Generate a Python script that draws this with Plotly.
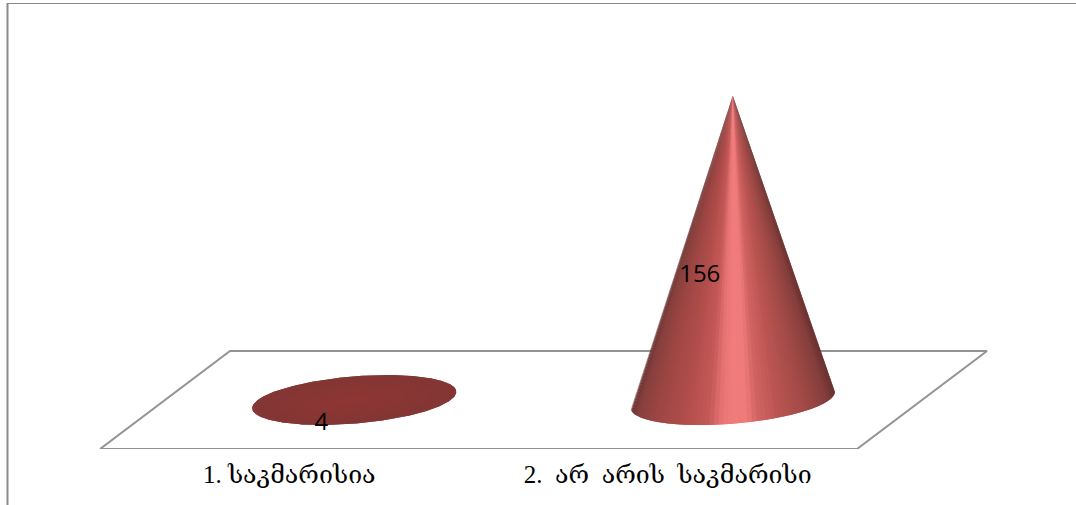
import math
import plotly.graph_objects as go

categories = ["1. საკმარისია", "2.\u00a0 არ\u00a0 არის\u00a0 საკმარისი"]
values = [4, 156]

# page geometry
W, H = 1076, 505
PX_PER_CAT = 378.5      # horizontal pixels per category slot
PX_PER_VAL = 1.95       # vertical pixels per value unit
FLOOR_LEFT_PX = 100
FLOOR_FRONT_PX = 449
DEPTH_X, DEPTH_Y = 130 / PX_PER_CAT, 98 / PX_PER_VAL   # full floor depth shear
RX, DX, DY = 96.5 / PX_PER_CAT, 33 / PX_PER_CAT, 25 / PX_PER_VAL
Y_FRONT = -DEPTH_Y / 2  # value 0 sits in the middle of the floor
LABEL_SHIFT = 3 / PX_PER_VAL

STOPS = [(0, "#6b3432"), (0.03, "#86403d"), (0.12, "#9c4543"), (0.27, "#b24e4c"),
         (0.38, "#c45957"), (0.45, "#e97575"), (0.50, "#f27c7c"), (0.57, "#ee7b7b"),
         (0.62, "#d26462"), (0.72, "#bb5552"), (0.86, "#a04947"), (0.96, "#853f3c"),
         (1, "#6a3230")]


def rgb(h):
    return [int(h[i:i + 2], 16) for i in (1, 3, 5)]


def shade(f):
    for (a, ca), (b, cb) in zip(STOPS, STOPS[1:]):
        if f <= b:
            k = (f - a) / (b - a)
            c = [round(p + (q - p) * k) for p, q in zip(rgb(ca), rgb(cb))]
            return f"rgb({c[0]},{c[1]},{c[2]})"
    return STOPS[-1][1]


def rim(cx, t):
    return cx + RX * math.cos(t) + DX * math.sin(t), DY * math.sin(t)


def patch(xs, ys, color):
    return go.Scatter(x=xs, y=ys, mode="lines", fill="toself", fillcolor=color,
                      line=dict(color=color, width=0), hoverinfo="skip", showlegend=False)


fig = go.Figure()

# floor
floor_x = [0, 2, 2 + DEPTH_X, DEPTH_X, 0]
floor_y = [Y_FRONT, Y_FRONT, Y_FRONT + DEPTH_Y, Y_FRONT + DEPTH_Y, Y_FRONT]
fig.add_trace(go.Scatter(x=floor_x, y=floor_y, mode="lines", line=dict(color="#939393", width=2),
                         hoverinfo="skip", showlegend=False, cliponaxis=False))

# cones
N = 70
for i, v in enumerate(values):
    cx = i + 0.5 + DEPTH_X / 2
    ts = [-math.pi + 2 * math.pi * k / 720 for k in range(721)]
    pts = [rim(cx, t) for t in ts]
    xmin, xmax = min(p[0] for p in pts), max(p[0] for p in pts)
    if v * PX_PER_VAL > 2 * DY * PX_PER_VAL:
        # tall cone: only the silhouette-bounded front of the rim is seen
        ang = [math.atan2((cx - p[0]) * PX_PER_CAT, (v - p[1]) * PX_PER_VAL) for p in pts]
        t_left = ts[ang.index(max(ang))]
        t_right = ts[ang.index(min(ang))]
        if t_right < t_left:
            t_right += 2 * math.pi
        for k in range(N):
            a = t_left + (t_right - t_left) * k / N
            b = t_left + (t_right - t_left) * (k + 1) / N
            e = t_left + (t_right - t_left) * min(k + 2, N) / N   # overlap hides seams
            pa, pb = rim(cx, a), rim(cx, b)
            arc = [rim(cx, a + (e - a) * j / 6) for j in range(7)]
            f = ((pa[0] + pb[0]) / 2 - xmin) / (xmax - xmin)
            fig.add_trace(patch([cx] + [p[0] for p in arc] + [cx],
                                [v] + [p[1] for p in arc] + [v], shade(f)))
    else:
        # flat cone: whole rim seen as a disc, slightly darker towards the back
        fig.add_trace(patch([p[0] for p in pts], [p[1] for p in pts], "rgb(130,55,53)"))
        for k in range(N):
            a = 2 * math.pi * k / N
            e = 2 * math.pi * (k + 2) / N
            arc = [rim(cx, a + (e - a) * j / 6) for j in range(7)]
            g = 0.5 - 0.5 * math.sin(a + math.pi / N)
            c = [round(122 + 18 * g), round(52 + 6 * g), round(50 + 6 * g)]
            fig.add_trace(patch([p[0] for p in arc] + [arc[0][0]],
                                [p[1] for p in arc] + [arc[0][1]], f"rgb({c[0]},{c[1]},{c[2]})"))
        # inner body of the disc, banded from back to front
        for k in range(12):
            s = 1 - k / 12
            g = 0.5
            fig.add_trace(patch([cx + (p[0] - cx) * s for p in pts], [p[1] * s for p in pts],
                                f"rgb({round(124 + 14 * g + k)},{round(53 + 3 * g)},{round(51 + 3 * g)})"))

# data labels
fig.add_trace(go.Scatter(
    x=[i + 0.5 + DEPTH_X / 2 - DX for i in range(len(values))],
    y=[v / 2 - DY - LABEL_SHIFT for v in values],
    mode="text", text=[str(v) for v in values], textposition="middle center",
    textfont=dict(family="Open Sans, sans-serif", size=24, color="#000000"),
    hoverinfo="skip", showlegend=False))

PLOT_H = FLOOR_FRONT_PX
fig.update_layout(
    width=W, height=H, margin=dict(l=0, r=0, t=0, b=H - FLOOR_FRONT_PX),
    paper_bgcolor="white", plot_bgcolor="white", showlegend=False,
    xaxis=dict(range=[-FLOOR_LEFT_PX / PX_PER_CAT, (W - FLOOR_LEFT_PX) / PX_PER_CAT],
               tickvals=[0.5, 1.5], ticktext=categories, showgrid=False, zeroline=False,
               showline=False, ticks="outside", ticklen=3, tickcolor="rgba(0,0,0,0)",
               tickfont=dict(family="Liberation Serif, DejaVu Serif, serif", size=25, color="#000000")),
    yaxis=dict(range=[Y_FRONT, Y_FRONT + FLOOR_FRONT_PX / PX_PER_VAL], visible=False),
    shapes=[
        dict(type="line", xref="paper", yref="paper", x0=7.5 / W, x1=7.5 / W,
             y0=-(H - PLOT_H) / PLOT_H, y1=1 - 3 / PLOT_H,
             line=dict(color="#8a8a8a", width=2), layer="below"),
        dict(type="line", xref="paper", yref="paper", x0=7 / W, x1=1,
             y0=1 - 3.5 / PLOT_H, y1=1 - 3.5 / PLOT_H,
             line=dict(color="#8a8a8a", width=1), layer="below"),
    ],
)

fig.write_html("out.html", config={"displayModeBar": False},
               post_script="document.body.style.margin='0';document.body.style.overflow='hidden';")
